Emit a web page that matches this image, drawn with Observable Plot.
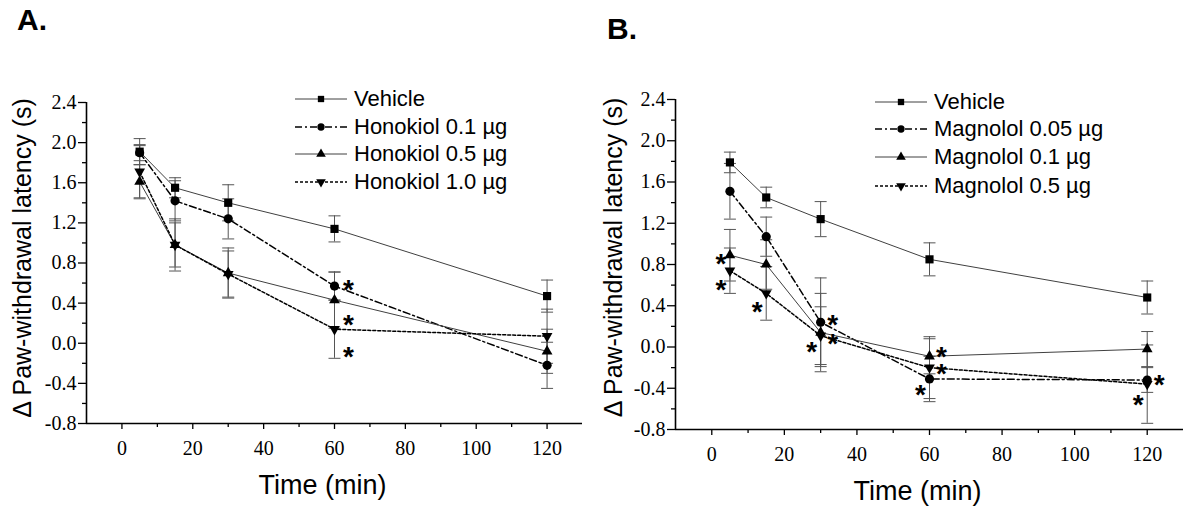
<!DOCTYPE html>
<html><head><meta charset="utf-8">
<script src="https://cdn.jsdelivr.net/npm/d3@7"></script>
<script src="https://cdn.jsdelivr.net/npm/@observablehq/plot@0.6"></script>
<style>
html,body{margin:0;padding:0;background:#fff;}
#wrap{position:relative;width:1200px;height:516px;overflow:hidden;background:#fff;font-family:"Liberation Sans",Arial,sans-serif;color:#000;}
.panel{position:absolute;top:0;}
.plabel{position:absolute;font-weight:bold;font-size:30px;line-height:30px;}
.lrow{position:absolute;height:28px;display:flex;align-items:center;white-space:nowrap;font-size:22px;line-height:28px;}
.lrow svg{display:block;}
.lrow span{margin-left:7px;}
</style></head><body><div id="wrap"></div>
<script>
// ---------- data ----------
const times = [5, 15, 30, 60, 120];
const xTicks = [0, 20, 40, 60, 80, 100, 120];
const xMinorTicks = [10, 30, 50, 70, 90, 110];
const yTicks = [-0.8, -0.4, 0.0, 0.4, 0.8, 1.2, 1.6, 2.0, 2.4];
const yMinorTicks = [-0.6, -0.2, 0.2, 0.6, 1.0, 1.4, 1.8, 2.2];
const xDomain = [-10, 130];
const yDomain = [-0.8, 2.4];

// Panel A
const seriesA = ["Vehicle", "Honokiol 0.1 \u00b5g", "Honokiol 0.5 \u00b5g", "Honokiol 1.0 \u00b5g"];
const meanA_vehicle = [1.91, 1.55, 1.40, 1.14, 0.47];
const semA_vehicle  = [0.13, 0.10, 0.18, 0.13, 0.16];
const meanA_h01 = [1.90, 1.42, 1.24, 0.57, -0.22];
const semA_h01  = [0.08, 0.20, 0.20, 0.14, 0.23];
const meanA_h05 = [1.61, 0.98, 0.70, 0.43, -0.08];
const semA_h05  = [0.17, 0.26, 0.25, 0.28, 0.22];
const meanA_h10 = [1.71, 0.98, 0.69, 0.14, 0.07];
const semA_h10  = [0.26, 0.22, 0.23, 0.29, 0.27];
const astA_time  = [60, 60, 60];
const astA_value = [0.60, 0.25, -0.07];
const astA_side  = ["right", "right", "right"];

// Panel B
const seriesB = ["Vehicle", "Magnolol 0.05 \u00b5g", "Magnolol 0.1 \u00b5g", "Magnolol 0.5 \u00b5g"];
const meanB_vehicle = [1.79, 1.45, 1.24, 0.85, 0.48];
const semB_vehicle  = [0.10, 0.10, 0.17, 0.16, 0.16];
const meanB_m005 = [1.51, 1.07, 0.24, -0.31, -0.32];
const semB_m005  = [0.27, 0.19, 0.43, 0.22, 0.12];
const meanB_m01  = [0.89, 0.80, 0.14, -0.09, -0.02];
const semB_m01   = [0.25, 0.24, 0.38, 0.17, 0.17];
const meanB_m05  = [0.74, 0.52, 0.11, -0.20, -0.36];
const semB_m05   = [0.22, 0.26, 0.28, 0.30, 0.38];
const astB_time  = [5, 5, 15, 30, 30, 30, 60, 60, 60, 120, 120];
const astB_value = [0.87, 0.62, 0.41, 0.28, 0.10, 0.02, -0.03, -0.19, -0.40, -0.30, -0.49];
const astB_side  = ["left", "left", "left", "right", "right", "left", "right", "right", "left", "right", "left"];

// ---------- styles ----------
const downTriangle = {
  draw(ctx, size) {
    const y = -Math.sqrt(size / (Math.sqrt(3) * 3));
    ctx.moveTo(0, -y * 2);
    ctx.lineTo(-Math.sqrt(3) * y, y);
    ctx.lineTo(Math.sqrt(3) * y, y);
    ctx.closePath();
  }
};
const capSymbol = { draw(ctx) { ctx.moveTo(-6, 0); ctx.lineTo(6, 0); } };
const styles = [
  {dash: null,      width: 1.0, stroke: "#404040", symbol: "square",   r: 4.6, lsym: d3.symbolSquare,   lsize: 40},
  {dash: "7,3,2,3", width: 1.5, stroke: "#000",    symbol: "circle",   r: 4.6, lsym: d3.symbolCircle,   lsize: 42},
  {dash: null,      width: 1.0, stroke: "#404040", symbol: "triangle", r: 4.0, lsym: d3.symbolTriangle, lsize: 40},
  {dash: "3,2",     width: 1.5, stroke: "#000",    symbol: downTriangle, r: 4.0, lsym: downTriangle,    lsize: 40}
];
const SERIF = "'Liberation Serif', 'Times New Roman', serif";
const SANS = "'Liberation Sans', Arial, sans-serif";

function buildRows(names, means, sems) {
  const rows = [];
  names.forEach((name, i) => times.forEach((t, j) =>
    rows.push({series: i, name, time: t, mean: means[i][j], sem: sems[i][j]})));
  return rows;
}
function buildAst(ts, vs, sides) {
  return ts.map((t, i) => ({time: t, value: vs[i], side: sides[i]}));
}

function panel(opts) {
  const {rows, ast, margins, yTitleOffset, yTitleDy, astDx, xLabelDy} = opts;
  const marks = [
    Plot.axisX({ticks: xMinorTicks, tickSize: 4, tickFormat: () => "", strokeWidth: 1.3, label: null}),
    Plot.axisX({ticks: xTicks, tickSize: 6, tickFormat: () => "", strokeWidth: 1.3, label: null}),
    Plot.axisY({ticks: yMinorTicks, tickSize: 4, tickFormat: () => "", strokeWidth: 1.3, label: null}),
    Plot.axisY({ticks: yTicks, tickSize: 8, tickFormat: () => "", strokeWidth: 1.3, label: null}),
    // tick labels (serif, as in the original)
    Plot.text(xTicks, {x: d => d, frameAnchor: "bottom", dy: xLabelDy, lineAnchor: "top", text: d => String(d),
      fontFamily: SERIF, fontSize: 20, fill: "#000"}),
    Plot.text(yTicks, {y: d => d, frameAnchor: "left", dx: -10, textAnchor: "end", lineAnchor: "middle",
      text: d => d.toFixed(1), fontFamily: SERIF, fontSize: 20, fill: "#000"}),
    Plot.ruleY([yDomain[0]], {stroke: "#000", strokeWidth: 1.6}),
    Plot.ruleX([xDomain[0]], {stroke: "#000", strokeWidth: 1.6}),
    Plot.ruleX(rows, {x: "time", y1: d => d.mean - d.sem, y2: d => d.mean + d.sem, stroke: "#555", strokeWidth: 1}),
    Plot.dot(rows.flatMap(d => [{time: d.time, v: d.mean - d.sem}, {time: d.time, v: d.mean + d.sem}]),
      {x: "time", y: "v", symbol: capSymbol, r: 3, stroke: "#555", strokeWidth: 1, fill: "none"})
  ];
  styles.forEach((s, i) => {
    const data = rows.filter(d => d.series === i);
    marks.push(Plot.line(data, {x: "time", y: "mean", stroke: s.stroke, strokeWidth: s.width,
      strokeDasharray: s.dash || undefined}));
  });
  styles.forEach((s, i) => {
    const data = rows.filter(d => d.series === i);
    marks.push(Plot.dot(data, {x: "time", y: "mean", symbol: s.symbol, r: s.r, fill: "#000", stroke: "none"}));
  });
  for (const side of ["left", "right"]) {
    marks.push(Plot.text(ast.filter(d => d.side === side), {x: "time", y: "value", text: () => "*",
      dx: side === "left" ? -astDx[0] : astDx[1], dy: 7, fontSize: 28, fontWeight: "bold",
      fontFamily: SANS, lineAnchor: "middle", textAnchor: "middle"}));
  }
  marks.push(Plot.text(["Time (min)"], {frameAnchor: "bottom", dx: -12, dy: 70, lineAnchor: "bottom",
    fontSize: 27, fontFamily: SANS}));
  marks.push(Plot.text(["\u0394 Paw-withdrawal latency (s)"], {frameAnchor: "left", rotate: -90,
    dx: -yTitleOffset, dy: yTitleDy, lineAnchor: "top", textAnchor: "middle", fontSize: 25, fontFamily: SANS}));
  return Plot.plot({
    width: 600, height: 516,
    marginLeft: margins[0], marginRight: margins[1], marginTop: margins[2], marginBottom: margins[3],
    style: {fontFamily: SANS, fontSize: "20px", color: "#000", background: "transparent", overflow: "visible"},
    x: {domain: xDomain, label: null},
    y: {domain: yDomain, label: null},
    marks
  });
}

function legend(parent, names, left, rowYs) {
  names.forEach((name, i) => {
    const s = styles[i];
    const row = d3.select(parent).append("div").attr("class", "lrow")
      .style("left", left + "px").style("top", (rowYs[i] - 14) + "px");
    const svg = row.append("svg").attr("width", 52).attr("height", 20);
    svg.append("line").attr("x1", 0).attr("x2", 52).attr("y1", 10).attr("y2", 10)
      .attr("stroke", s.stroke).attr("stroke-width", s.width)
      .attr("stroke-dasharray", s.dash || null);
    svg.append("path").attr("transform", "translate(26,10)")
      .attr("d", d3.symbol(s.lsym, s.lsize)()).attr("fill", "#000");
    row.append("span").text(name);
  });
}

const wrap = document.getElementById("wrap");

const rowsA = buildRows(seriesA,
  [meanA_vehicle, meanA_h01, meanA_h05, meanA_h10],
  [semA_vehicle, semA_h01, semA_h05, semA_h10]);
const rowsB = buildRows(seriesB,
  [meanB_vehicle, meanB_m005, meanB_m01, meanB_m05],
  [semB_vehicle, semB_m005, semB_m01, semB_m05]);

const pA = panel({rows: rowsA, ast: buildAst(astA_time, astA_value, astA_side),
  margins: [86, 18, 102, 93], yTitleOffset: 73, yTitleDy: -5, astDx: [10, 14], xLabelDy: 17});
pA.classList.add("panel"); pA.style.left = "0px";
wrap.appendChild(pA);

const pB = panel({rows: rowsB, ast: buildAst(astB_time, astB_value, astB_side),
  margins: [75, 17, 99, 87], yTitleOffset: 71, yTitleDy: -7, astDx: [9, 12], xLabelDy: 17});
pB.classList.add("panel"); pB.style.left = "600px";
wrap.appendChild(pB);

legend(wrap, seriesA, 295, [99, 127, 154, 182]);
legend(wrap, seriesB, 875, [102, 129, 157, 186]);

d3.select(wrap).append("div").attr("class", "plabel").style("left", "17px").style("top", "5px").text("A.");
d3.select(wrap).append("div").attr("class", "plabel").style("left", "607px").style("top", "14px").text("B.");
</script>
</body></html>
